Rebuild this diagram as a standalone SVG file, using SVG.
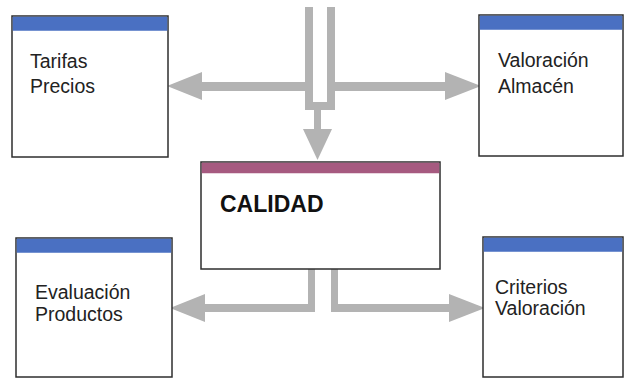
<svg xmlns="http://www.w3.org/2000/svg" width="625" height="378" viewBox="0 0 625 378">
  <style>
    .box { fill: #ffffff; stroke: #2e2e2e; stroke-width: 1.5; }
    .hdr-blue { fill: #4a70c2; }
    .hdr-pink { fill: #a65a80; }
    .label { font-family: "Liberation Sans", Arial, sans-serif; font-size: 19.5px; fill: #222222; }
    .title { font-family: "Liberation Sans", Arial, sans-serif; font-size: 23px; font-weight: bold; fill: #111111; }
    .conn { fill: #b3b3b3; stroke: none; }
  </style>
  <rect width="625" height="378" fill="#ffffff"/>

  <!-- connectors -->
  <g id="connectors">
    <!-- hollow feed from above -->
    <path class="conn" d="M305,7 V110 H335 V7 H327 V102 H313 V7 Z"/>
    <!-- branch to Tarifas / Precios -->
    <rect class="conn" x="200" y="82" width="105" height="9"/>
    <polygon class="conn" points="202,72 202,100 167,86"/>
    <!-- branch to Valoración / Almacén -->
    <rect class="conn" x="335" y="82" width="111" height="9"/>
    <polygon class="conn" points="445,72 445,100 481,86"/>
    <!-- down into CALIDAD -->
    <rect class="conn" x="314" y="109" width="7" height="22"/>
    <polygon class="conn" points="303,129 332,129 317.5,160"/>
    <!-- CALIDAD to Evaluación / Productos -->
    <path class="conn" d="M308,269 H315 V312 H204 V304 H308 Z"/>
    <polygon class="conn" points="205,294 205,322 170,308"/>
    <!-- CALIDAD to Criterios / Valoración -->
    <path class="conn" d="M331,269 H338 V304 H450 V312 H331 Z"/>
    <polygon class="conn" points="449,294 449,322 485,308"/>
  </g>

  <g id="tarifas">
    <rect class="box" x="12" y="16" width="156" height="141"/>
    <rect class="hdr-blue" x="12.75" y="16.75" width="154.5" height="14"/>
    <text class="label" x="30" y="68">Tarifas</text>
    <text class="label" x="30" y="93">Precios</text>
  </g>

  <g id="valoracion-almacen">
    <rect class="box" x="479" y="15" width="144" height="141"/>
    <rect class="hdr-blue" x="479.75" y="15.75" width="142.5" height="14"/>
    <text class="label" x="498" y="67">Valoración</text>
    <text class="label" x="498" y="93">Almacén</text>
  </g>

  <g id="calidad">
    <rect class="box" x="201" y="162" width="239" height="107"/>
    <rect class="hdr-pink" x="201.75" y="162.75" width="237.5" height="10.5"/>
    <text class="title" x="220" y="212">CALIDAD</text>
  </g>

  <g id="evaluacion">
    <rect class="box" x="16" y="238" width="156" height="139"/>
    <rect class="hdr-blue" x="16.75" y="238.75" width="154.5" height="14"/>
    <text class="label" x="35" y="299">Evaluación</text>
    <text class="label" x="35" y="321">Productos</text>
  </g>

  <g id="criterios">
    <rect class="box" x="483" y="237" width="140" height="140"/>
    <rect class="hdr-blue" x="483.75" y="237.75" width="138.5" height="14"/>
    <text class="label" x="495" y="294">Criterios</text>
    <text class="label" x="495" y="315">Valoración</text>
  </g>
</svg>
